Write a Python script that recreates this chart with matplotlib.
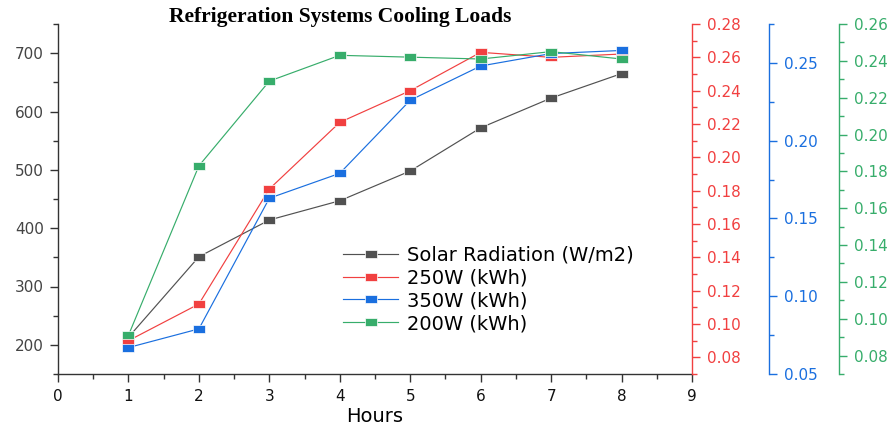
import matplotlib
matplotlib.use("Agg")
import matplotlib.pyplot as plt
from matplotlib.ticker import MultipleLocator, FormatStrFormatter
from matplotlib.path import Path

# ---- data ----
hours = [1, 2, 3, 4, 5, 6, 7, 8]
solar = [213, 351, 414, 447, 498, 572, 623, 665]
w250 = [0.090, 0.112, 0.181, 0.221, 0.240, 0.263, 0.260, 0.262]
w350 = [0.067, 0.079, 0.163, 0.179, 0.226, 0.248, 0.256, 0.258]
w200 = [0.091, 0.183, 0.229, 0.243, 0.242, 0.241, 0.245, 0.241]
labels = ["Solar Radiation (W/m2)", "250W (kWh)", "350W (kWh)", "200W (kWh)"]
title = "Refrigeration Systems Cooling Loads"
xlabel = "Hours"

C_BLACK = "#515151"
C_RED = "#F14040"
C_BLUE = "#1A6FDF"
C_GREEN = "#37AD6B"

plt.rcParams["font.family"] = ["DejaVu Sans"]

fig = plt.figure(figsize=(8.93, 4.28), dpi=100)
ax = fig.add_axes([58 / 893, 54 / 428, 634 / 893, 350 / 428])
ax2 = ax.twinx()
ax3 = ax.twinx()
ax4 = ax.twinx()

# slightly wide square marker (reference is horizontally stretched)
rect = Path([(-1.3, -1), (1.3, -1), (1.3, 1), (-1.3, 1), (-1.3, -1)],
            [Path.MOVETO, Path.LINETO, Path.LINETO, Path.LINETO, Path.CLOSEPOLY])
mk = dict(marker=rect, markersize=8, markeredgecolor="white", markeredgewidth=0.5, linewidth=0.85)
l1, = ax.plot(hours, solar, color=C_BLACK, **mk)
l2, = ax2.plot(hours, w250, color=C_RED, **mk)
l3, = ax3.plot(hours, w350, color=C_BLUE, **mk)
l4, = ax4.plot(hours, w200, color=C_GREEN, **mk)

# main axis
ax.set_xlim(0, 9)
ax.set_ylim(150, 750)
ax.xaxis.set_major_locator(MultipleLocator(1))
ax.xaxis.set_minor_locator(MultipleLocator(0.5))
ax.yaxis.set_major_locator(MultipleLocator(100))
ax.yaxis.set_minor_locator(MultipleLocator(50))
ax.spines["top"].set_visible(False)
ax.spines["right"].set_visible(False)
for s in ("left", "bottom"):
    ax.spines[s].set_color("#333333")
    ax.spines[s].set_linewidth(1.0)
ax.tick_params(axis="both", which="major", direction="out", length=6, width=1,
               colors="#333333", labelsize=11, pad=4)
ax.tick_params(axis="both", which="minor", direction="out", length=3.5, width=1, colors="#333333")
ax.tick_params(axis="y", labelcolor="#444444")
ax.tick_params(axis="x", labelcolor="#111111", pad=5)
ax.set_xlabel(xlabel, fontsize=14)
ax.xaxis.label.set_va("center")
ax.xaxis.set_label_coords(0.5, (374 - 417) / 350)


def style_twin(a, color, lo, hi, major, minor, pos):
    a.set_ylim(lo, hi)
    a.yaxis.set_major_locator(MultipleLocator(major))
    a.yaxis.set_minor_locator(MultipleLocator(minor))
    a.yaxis.set_major_formatter(FormatStrFormatter("%.2f"))
    for s in ("top", "left", "bottom"):
        a.spines[s].set_visible(False)
    a.spines["right"].set_position(("axes", pos))
    a.spines["right"].set_color(color)
    a.spines["right"].set_linewidth(1.0)
    a.tick_params(axis="y", which="major", direction="out", length=6, width=1,
                  colors=color, labelsize=11, pad=5)
    a.tick_params(axis="y", which="minor", direction="out", length=3.5, width=1, colors=color)


style_twin(ax2, C_RED, 0.07, 0.28, 0.02, 0.01, 1.0)
style_twin(ax3, C_BLUE, 0.05, 0.275, 0.05, 0.025, (769 - 58) / 634)
style_twin(ax4, C_GREEN, 0.07, 0.26, 0.02, 0.01, (839 - 58) / 634)

fig.text(340 / 893, 1 - 17 / 428, title, ha="center", va="center",
         fontsize=15.5, fontweight="bold", family=["Liberation Serif", "DejaVu Serif"])

fig.legend([l1, l2, l3, l4], labels, loc="upper left",
           bbox_to_anchor=(343 / 893, 1 - 245.5 / 428), frameon=False, fontsize=14,
           handlelength=2.83, handletextpad=0.46, labelspacing=0.2, borderpad=0,
           borderaxespad=0)

fig.savefig("out.png", dpi=100)
